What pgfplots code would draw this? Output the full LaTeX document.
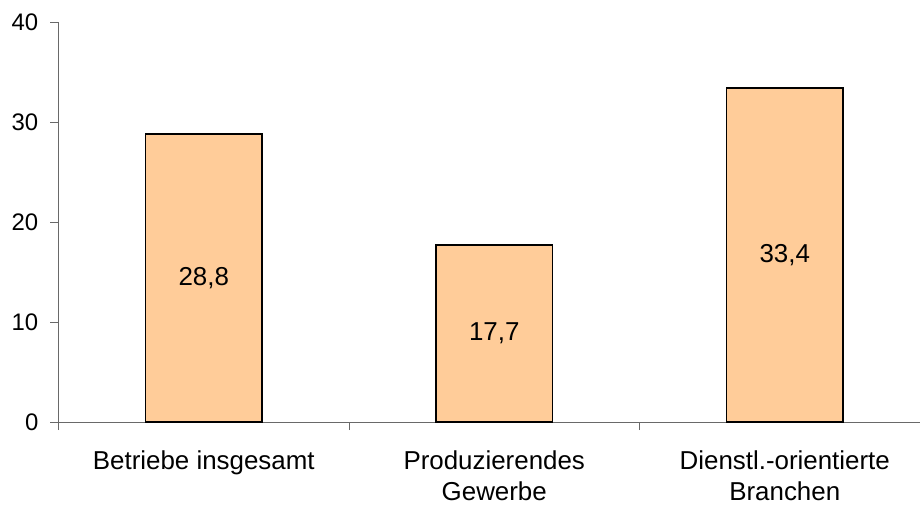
\documentclass[border=0pt]{standalone}
\usepackage{pgfplots}
\pgfplotsset{compat=1.18}
\usepackage{fontspec}
\setmainfont{Liberation Sans}
\definecolor{barfill}{RGB}{255,204,153}
\definecolor{axisgray}{RGB}{105,105,105}

\begin{document}
\begin{tikzpicture}
\begin{axis}[
  scale only axis,
  width=861.5bp, height=400bp,
  xmin=-0.5, xmax=2.4656,
  ymin=0, ymax=40,
  ybar,
  axis x line*=bottom, axis y line*=left,
  axis line style={axisgray, line width=1bp},
  tick align=outside,
  major tick length=8bp,
  tick style={axisgray, line width=1bp},
  xtick={-0.5,0.5,1.5},
  xticklabels={},
  ytick={0,10,20,30,40},
  /pgf/number format/assume math mode=true,
  yticklabel style={font=\fontsize{24}{28}\selectfont, inner sep=0pt, xshift=-12bp},
  extra x ticks={0,1,2},
  extra x tick labels={{Betriebe insgesamt},{Produzierendes\\Gewerbe},{Dienstl.-orientierte\\Branchen}},
  extra x tick style={major tick length=0pt,
    xticklabel style={align=center, font=\fontsize{26}{31.5}\selectfont, yshift=-25bp}},
  clip=false,
]
\addplot[fill=barfill, draw=black, line width=1.5bp, bar width=0.4,
  nodes near coords={\pgfmathprintnumber[fixed,fixed zerofill,precision=1,use comma]{\pgfplotspointmeta}},
  visualization depends on=rawy \as \rawy,
  every node near coord/.append style={anchor=center,
    shift={(axis direction cs:0,-\rawy/2)},
    font=\fontsize{26}{31}\selectfont, text=black},
] coordinates {(0,28.8) (1,17.7) (2,33.4)};
\coordinate (bl) at (rel axis cs:0,0);
\coordinate (tr) at (rel axis cs:1,1);
\end{axis}
\pgfresetboundingbox
\path ([xshift=-58.5bp,yshift=-83bp]bl) rectangle ([yshift=22bp]tr);
\end{tikzpicture}
\end{document}
